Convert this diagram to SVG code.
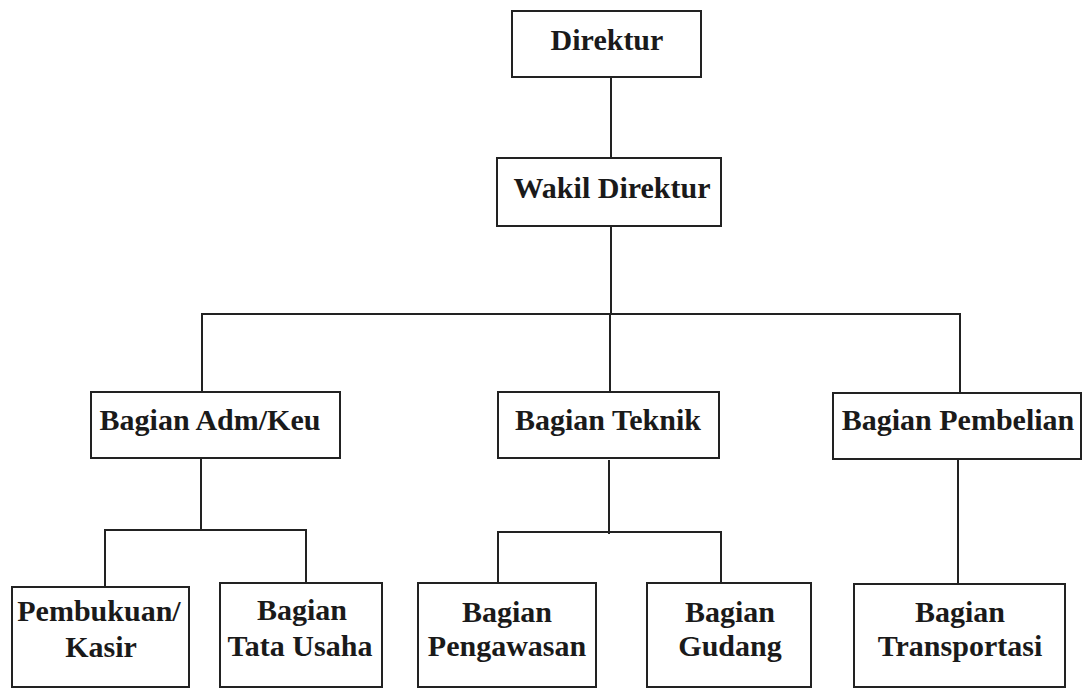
<svg xmlns="http://www.w3.org/2000/svg" width="1083" height="688" viewBox="0 0 1083 688">
<style>
.box{fill:#fff;stroke:#222;stroke-width:2}
.ln{fill:none;stroke:#222;stroke-width:2}
text{font-family:"Liberation Serif","Times New Roman",serif;font-weight:bold;font-size:30px;fill:#1a1a1a;text-anchor:middle}
</style>
<rect width="1083" height="688" fill="#fff"/>
<g id="connectors">
<path class="ln" d="M611 77V158"/>
<path class="ln" d="M611 226V314"/>
<path class="ln" d="M202 392V314H960V393"/>
<path class="ln" d="M610 314V392"/>
<path class="ln" d="M201 458V530"/>
<path class="ln" d="M105 587V530H306V583"/>
<path class="ln" d="M609 460V534"/>
<path class="ln" d="M498 583V532H721V583"/>
<path class="ln" d="M958 459V584"/>
</g>
<g id="direktur"><rect class="box" x="512" y="11" width="189" height="66"/><text x="607" y="50">Direktur</text></g>
<g id="wakil"><rect class="box" x="497" y="158" width="224" height="68"/><text x="612" y="198">Wakil Direktur</text></g>
<g id="adm"><rect class="box" x="91" y="392" width="249" height="66"/><text x="210" y="430">Bagian Adm/Keu</text></g>
<g id="teknik"><rect class="box" x="498" y="392" width="221" height="66"/><text x="608" y="430">Bagian Teknik</text></g>
<g id="pembelian"><rect class="box" x="833" y="393" width="248" height="66"/><text x="958" y="430">Bagian Pembelian</text></g>
<g id="pembukuan"><rect class="box" x="12" y="587" width="177" height="100"/><text x="99" y="621">Pembukuan/</text><text x="101" y="657">Kasir</text></g>
<g id="tatausaha"><rect class="box" x="220" y="583" width="162" height="104"/><text x="302" y="620">Bagian</text><text x="300" y="656">Tata Usaha</text></g>
<g id="pengawasan"><rect class="box" x="418" y="583" width="178" height="104"/><text x="507" y="622">Bagian</text><text x="507" y="656">Pengawasan</text></g>
<g id="gudang"><rect class="box" x="647" y="583" width="164" height="104"/><text x="730" y="622">Bagian</text><text x="730" y="656">Gudang</text></g>
<g id="transportasi"><rect class="box" x="854" y="584" width="211" height="103"/><text x="960" y="622">Bagian</text><text x="960" y="656">Transportasi</text></g>
</svg>
